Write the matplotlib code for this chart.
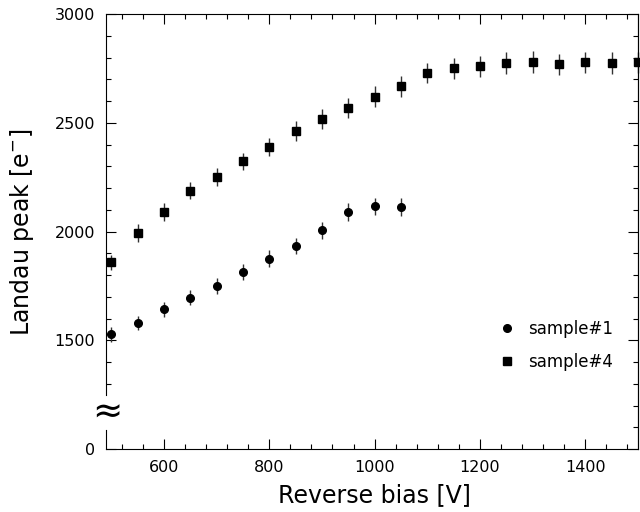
import numpy as np
import matplotlib.pyplot as plt
from matplotlib.lines import Line2D
from matplotlib.ticker import FixedLocator, NullFormatter

# data
bias1 = [500, 550, 600, 650, 700, 750, 800, 850, 900, 950, 1000, 1050]
landau1 = [1527, 1579, 1642, 1696, 1749, 1813, 1875, 1933, 2005, 2089, 2115, 2112]
err1 = [33, 33, 34, 34, 36, 37, 38, 37, 38, 40, 41, 41]

bias4 = [500, 550, 600, 650, 700, 750, 800, 850, 900, 950, 1000, 1050,
         1100, 1150, 1200, 1250, 1300, 1350, 1400, 1450, 1500]
landau4 = [1858, 1994, 2090, 2187, 2251, 2322, 2388, 2462, 2517, 2567, 2619, 2668,
           2728, 2751, 2760, 2774, 2778, 2769, 2778, 2774, 2778]
err4 = [36, 40, 41, 39, 42, 41, 43, 45, 47, 47, 48, 49,
        47, 49, 49, 50, 50, 49, 49, 49, 49]

yticks = [1000, 1500, 2000, 2500, 3000]
yticklabels = ["0", "1500", "2000", "2500", "3000"]
xticks = [600, 800, 1000, 1200, 1400]

fig = plt.figure(figsize=(6.4, 5.12), dpi=100)
ax = fig.add_axes([106/640, 1-449/512, 532/640, 435/512])

ax.errorbar(bias1, landau1, yerr=err1, fmt="o", color="black", ms=5.5,
            ecolor="#333333", elinewidth=1, capsize=0, clip_on=False)
ax.errorbar(bias4, landau4, yerr=err4, fmt="s", color="black", ms=5.5,
            ecolor="#333333", elinewidth=1, capsize=0, clip_on=False)

ax.set_xlim(490, 1500)
ax.set_ylim(1000, 3000)

ax.set_xticks(xticks)
ax.set_xticklabels([str(v) for v in xticks])
ax.xaxis.set_minor_locator(FixedLocator(np.arange(520, 1500, 40)))
ax.set_yticks(yticks)
ax.set_yticklabels(yticklabels)
ax.yaxis.set_minor_locator(FixedLocator([1300, 1400, 1600, 1700, 1800, 1900, 2100, 2200,
                                         2300, 2400, 2600, 2700, 2800, 2900]))

ax.tick_params(which="both", direction="in", top=True, right=False, width=0.8,
               labelsize=11.5, pad=8)
ax.tick_params(which="major", length=7)
ax.tick_params(which="minor", length=3.5)

# right side ticks run the full height
sec = ax.secondary_yaxis("right")
sec.set_yticks(yticks)
sec.yaxis.set_minor_locator(FixedLocator(np.arange(1100, 3000, 100)))
sec.yaxis.set_major_formatter(NullFormatter())
sec.tick_params(which="both", direction="in", width=0.8)
sec.tick_params(which="major", length=7)
sec.tick_params(which="minor", length=3.5)

for s in ax.spines.values():
    s.set_linewidth(0.8)
sec.spines["right"].set_linewidth(0.8)

# broken left axis
ax.spines["left"].set_bounds(1250, 3000)
ax.plot([0, 0], [1000, 1088], transform=ax.get_yaxis_transform(),
        color="black", lw=0.8, clip_on=False)
ax.text(0.002, 1168, "\u2248", transform=ax.get_yaxis_transform(), fontsize=26,
        ha="center", va="center")

fig.text(374/640, 1-495/512, "Reverse bias [V]", fontsize=17, ha="center", va="center")
fig.text(22/640, 1-232/512, "Landau peak [e$^{-}$]", fontsize=17, rotation=90,
         ha="center", va="center")

handles = [Line2D([], [], marker="o", color="black", ls="none", ms=5.5),
           Line2D([], [], marker="s", color="black", ls="none", ms=5.5)]
ax.legend(handles, ["sample#1", "sample#4"], loc="upper left",
          bbox_to_anchor=(499/640, 1-320/512), bbox_transform=fig.transFigure,
          frameon=False, fontsize=12, handlelength=1.0, handletextpad=0.75,
          borderpad=0, borderaxespad=0, labelspacing=0.9)

fig.savefig("out.png", dpi=100)
